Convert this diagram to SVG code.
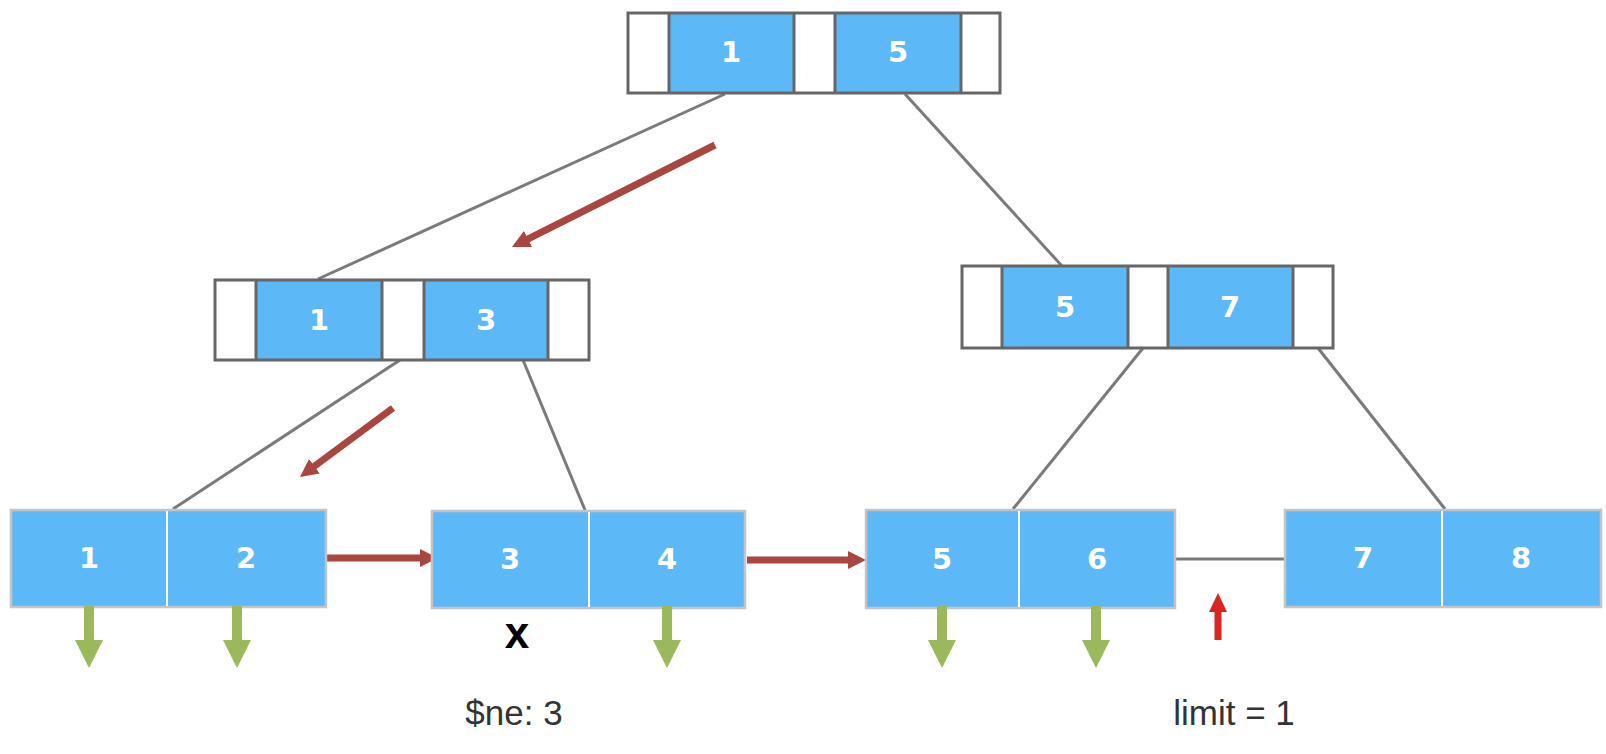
<svg xmlns="http://www.w3.org/2000/svg" width="1606" height="754" viewBox="0 0 1606 754">
<style>
.blue{fill:#5CB8F6}
.white{fill:#FFFFFF}
.inode{fill:none;stroke:#666;stroke-width:3}
.div{stroke:#666;stroke-width:3}
.leaf{fill:#5CB8F6;stroke:#C4C4C4;stroke-width:2.5}
.ldiv{stroke:#FFFFFF;stroke-width:2}
.lbl{font-family:"DejaVu Sans",sans-serif;font-weight:bold;font-size:29px;fill:#FFFFFF;text-anchor:middle}
.edge{stroke:#7A7A7A;stroke-width:3;fill:none}
.path{stroke:#A8463F;stroke-width:7;fill:none;marker-end:url(#brown)}
.note{font-family:"Liberation Sans",sans-serif;font-size:35px;fill:#333;text-anchor:middle}
</style>
<defs>
<marker id="brown" markerUnits="userSpaceOnUse" markerWidth="18" markerHeight="18" viewBox="0 0 18 18" refX="6" refY="9" orient="auto">
<path d="M0,0 L18,9 L0,18 z" fill="#A8463F"/>
</marker>
<path id="down" d="M-5,0 L5,0 L5,34 L14,34 L0,62 L-14,34 L-5,34 z" fill="#9BB85A"/>
</defs>

<g id="connectors">
<line class="edge" x1="725" y1="94" x2="318" y2="279"/>
<line class="edge" x1="905" y1="94" x2="1062" y2="266"/>
<line class="edge" x1="400" y1="360" x2="173" y2="509"/>
<line class="edge" x1="523" y1="360" x2="585" y2="510"/>
<line class="edge" x1="1143" y1="348" x2="1013" y2="509"/>
<line class="edge" x1="1318" y1="348" x2="1445" y2="509"/>
<line class="edge" x1="1176" y1="559" x2="1285" y2="559"/>
<line class="path" x1="715" y1="145" x2="522.7" y2="241.6"/>
<line class="path" x1="393" y1="408" x2="309.6" y2="469.8"/>
<line class="path" x1="326" y1="558" x2="426" y2="558"/>
<line class="path" x1="747" y1="560" x2="854" y2="560"/>
</g>

<g id="root">
<rect class="white" x="628" y="13" width="372" height="80"/>
<rect class="blue" x="669" y="13" width="125" height="80"/>
<rect class="blue" x="835" y="13" width="126" height="80"/>
<rect class="inode" x="628" y="13" width="372" height="80"/>
<line class="div" x1="669" y1="13" x2="669" y2="93"/>
<line class="div" x1="794" y1="13" x2="794" y2="93"/>
<line class="div" x1="835" y1="13" x2="835" y2="93"/>
<line class="div" x1="961" y1="13" x2="961" y2="93"/>
<text class="lbl" x="731" y="62">1</text>
<text class="lbl" x="898" y="62">5</text>
</g>

<g id="inner-left">
<rect class="white" x="215" y="280" width="374" height="80"/>
<rect class="blue" x="256" y="280" width="126" height="80"/>
<rect class="blue" x="424" y="280" width="124" height="80"/>
<rect class="inode" x="215" y="280" width="374" height="80"/>
<line class="div" x1="256" y1="280" x2="256" y2="360"/>
<line class="div" x1="382" y1="280" x2="382" y2="360"/>
<line class="div" x1="424" y1="280" x2="424" y2="360"/>
<line class="div" x1="548" y1="280" x2="548" y2="360"/>
<text class="lbl" x="319" y="330">1</text>
<text class="lbl" x="486" y="330">3</text>
</g>

<g id="inner-right">
<rect class="white" x="962" y="266" width="371" height="82"/>
<rect class="blue" x="1002" y="266" width="126" height="82"/>
<rect class="blue" x="1168" y="266" width="125" height="82"/>
<rect class="inode" x="962" y="266" width="371" height="82"/>
<line class="div" x1="1002" y1="266" x2="1002" y2="348"/>
<line class="div" x1="1128" y1="266" x2="1128" y2="348"/>
<line class="div" x1="1168" y1="266" x2="1168" y2="348"/>
<line class="div" x1="1293" y1="266" x2="1293" y2="348"/>
<text class="lbl" x="1065" y="317">5</text>
<text class="lbl" x="1230" y="317">7</text>
</g>

<g id="leaf-1-2">
<rect class="leaf" x="11" y="510" width="315" height="97"/>
<line class="ldiv" x1="167" y1="511" x2="167" y2="606"/>
<text class="lbl" x="89" y="568">1</text>
<text class="lbl" x="246" y="568">2</text>
</g>

<g id="leaf-3-4">
<rect class="leaf" x="432" y="511" width="313" height="97"/>
<line class="ldiv" x1="589" y1="512" x2="589" y2="607"/>
<text class="lbl" x="510" y="569">3</text>
<text class="lbl" x="667" y="569">4</text>
</g>

<g id="leaf-5-6">
<rect class="leaf" x="866" y="510" width="309" height="98"/>
<line class="ldiv" x1="1019" y1="511" x2="1019" y2="607"/>
<text class="lbl" x="942" y="569">5</text>
<text class="lbl" x="1097" y="569">6</text>
</g>

<g id="leaf-7-8">
<rect class="leaf" x="1285" y="510" width="316" height="97"/>
<line class="ldiv" x1="1442" y1="511" x2="1442" y2="606"/>
<text class="lbl" x="1363" y="568">7</text>
<text class="lbl" x="1521" y="568">8</text>
</g>

<g id="result-arrows">
<use href="#down" x="89" y="606"/>
<use href="#down" x="237" y="606"/>
<use href="#down" x="667" y="606"/>
<use href="#down" x="942" y="606"/>
<use href="#down" x="1096" y="606"/>
</g>

<g id="limit-arrow">
<path d="M1218,593 L1227,612 L1221.5,612 L1221.5,640 L1214.5,640 L1214.5,612 L1209,612 z" fill="#D9251F"/>
</g>

<g id="labels">
<text x="517" y="648" font-family="Liberation Sans, sans-serif" font-weight="bold" font-size="44" fill="#000" text-anchor="middle">x</text>
<text class="note" x="514" y="725">$ne: 3</text>
<text class="note" x="1234" y="725">limit = 1</text>
</g>
</svg>
